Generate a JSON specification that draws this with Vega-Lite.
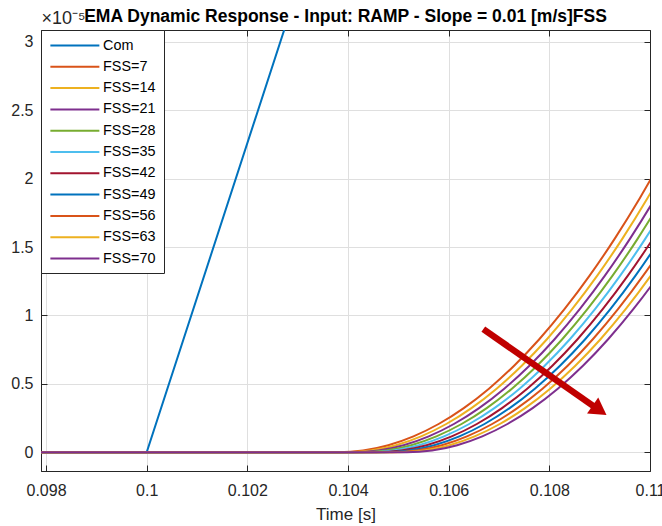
{
  "$schema": "https://vega.github.io/schema/vega-lite/v6.json",
  "width": 609,
  "height": 441,
  "autosize": {"type": "none"},
  "padding": {"left": 41, "top": 30, "right": 12, "bottom": 55},
  "background": "white",
  "config": {
    "font": "Liberation Sans",
    "view": {"stroke": "#262626", "strokeWidth": 1},
    "axis": {
      "labelFont": "Liberation Sans",
      "titleFont": "Liberation Sans",
      "domainColor": "#262626",
      "tickColor": "#262626",
      "gridColor": "#dfdfdf",
      "gridOpacity": 1,
      "labelColor": "#262626",
      "titleColor": "#262626",
      "labelFontSize": 16,
      "titleFontWeight": "normal"
    }
  },
  "title": {
    "text": "EMA Dynamic Response - Input: RAMP - Slope = 0.01 [m/s]FSS",
    "font": "Liberation Sans",
    "fontSize": 17.5,
    "fontWeight": "bold",
    "color": "#000000",
    "anchor": "middle",
    "offset": -16
  },
  "datasets": {
    "com": [
      {"s": "Com", "t": 0.0979, "y": 0},
      {"s": "Com", "t": 0.1, "y": 0},
      {"s": "Com", "t": 0.103, "y": 3.39}
    ],
    "fss": [
      {"s": "FSS=7", "t": 0.0979, "y": 0},
      {"s": "FSS=7", "t": 0.1038, "y": 0},
      {"s": "FSS=7", "t": 0.1043, "y": 0.0129},
      {"s": "FSS=7", "t": 0.1048, "y": 0.0516},
      {"s": "FSS=7", "t": 0.1053, "y": 0.1162},
      {"s": "FSS=7", "t": 0.1058, "y": 0.2066},
      {"s": "FSS=7", "t": 0.1063, "y": 0.3228},
      {"s": "FSS=7", "t": 0.1068, "y": 0.4648},
      {"s": "FSS=7", "t": 0.1073, "y": 0.6326},
      {"s": "FSS=7", "t": 0.1078, "y": 0.8262},
      {"s": "FSS=7", "t": 0.1083, "y": 1.0457},
      {"s": "FSS=7", "t": 0.1088, "y": 1.291},
      {"s": "FSS=7", "t": 0.1093, "y": 1.5621},
      {"s": "FSS=7", "t": 0.1098, "y": 1.859},
      {"s": "FSS=7", "t": 0.1103, "y": 2.1818},

      {"s": "FSS=14", "t": 0.0979, "y": 0},
      {"s": "FSS=14", "t": 0.103952, "y": 0},
      {"s": "FSS=14", "t": 0.104452, "y": 0.0129},
      {"s": "FSS=14", "t": 0.104952, "y": 0.0516},
      {"s": "FSS=14", "t": 0.105452, "y": 0.1162},
      {"s": "FSS=14", "t": 0.105952, "y": 0.2066},
      {"s": "FSS=14", "t": 0.106452, "y": 0.3228},
      {"s": "FSS=14", "t": 0.106952, "y": 0.4648},
      {"s": "FSS=14", "t": 0.107452, "y": 0.6326},
      {"s": "FSS=14", "t": 0.107952, "y": 0.8262},
      {"s": "FSS=14", "t": 0.108452, "y": 1.0457},
      {"s": "FSS=14", "t": 0.108952, "y": 1.291},
      {"s": "FSS=14", "t": 0.109452, "y": 1.5621},
      {"s": "FSS=14", "t": 0.109952, "y": 1.859},
      {"s": "FSS=14", "t": 0.110452, "y": 2.1818},

      {"s": "FSS=21", "t": 0.0979, "y": 0},
      {"s": "FSS=21", "t": 0.104104, "y": 0},
      {"s": "FSS=21", "t": 0.104604, "y": 0.0129},
      {"s": "FSS=21", "t": 0.105104, "y": 0.0516},
      {"s": "FSS=21", "t": 0.105604, "y": 0.1162},
      {"s": "FSS=21", "t": 0.106104, "y": 0.2066},
      {"s": "FSS=21", "t": 0.106604, "y": 0.3228},
      {"s": "FSS=21", "t": 0.107104, "y": 0.4648},
      {"s": "FSS=21", "t": 0.107604, "y": 0.6326},
      {"s": "FSS=21", "t": 0.108104, "y": 0.8262},
      {"s": "FSS=21", "t": 0.108604, "y": 1.0457},
      {"s": "FSS=21", "t": 0.109104, "y": 1.291},
      {"s": "FSS=21", "t": 0.109604, "y": 1.5621},
      {"s": "FSS=21", "t": 0.110104, "y": 1.859},
      {"s": "FSS=21", "t": 0.110604, "y": 2.1818},

      {"s": "FSS=28", "t": 0.0979, "y": 0},
      {"s": "FSS=28", "t": 0.104256, "y": 0},
      {"s": "FSS=28", "t": 0.104756, "y": 0.0129},
      {"s": "FSS=28", "t": 0.105256, "y": 0.0516},
      {"s": "FSS=28", "t": 0.105756, "y": 0.1162},
      {"s": "FSS=28", "t": 0.106256, "y": 0.2066},
      {"s": "FSS=28", "t": 0.106756, "y": 0.3228},
      {"s": "FSS=28", "t": 0.107256, "y": 0.4648},
      {"s": "FSS=28", "t": 0.107756, "y": 0.6326},
      {"s": "FSS=28", "t": 0.108256, "y": 0.8262},
      {"s": "FSS=28", "t": 0.108756, "y": 1.0457},
      {"s": "FSS=28", "t": 0.109256, "y": 1.291},
      {"s": "FSS=28", "t": 0.109756, "y": 1.5621},
      {"s": "FSS=28", "t": 0.110256, "y": 1.859},
      {"s": "FSS=28", "t": 0.110756, "y": 2.1818},

      {"s": "FSS=35", "t": 0.0979, "y": 0},
      {"s": "FSS=35", "t": 0.104408, "y": 0},
      {"s": "FSS=35", "t": 0.104908, "y": 0.0129},
      {"s": "FSS=35", "t": 0.105408, "y": 0.0516},
      {"s": "FSS=35", "t": 0.105908, "y": 0.1162},
      {"s": "FSS=35", "t": 0.106408, "y": 0.2066},
      {"s": "FSS=35", "t": 0.106908, "y": 0.3228},
      {"s": "FSS=35", "t": 0.107408, "y": 0.4648},
      {"s": "FSS=35", "t": 0.107908, "y": 0.6326},
      {"s": "FSS=35", "t": 0.108408, "y": 0.8262},
      {"s": "FSS=35", "t": 0.108908, "y": 1.0457},
      {"s": "FSS=35", "t": 0.109408, "y": 1.291},
      {"s": "FSS=35", "t": 0.109908, "y": 1.5621},
      {"s": "FSS=35", "t": 0.110408, "y": 1.859},
      {"s": "FSS=35", "t": 0.110908, "y": 2.1818},

      {"s": "FSS=42", "t": 0.0979, "y": 0},
      {"s": "FSS=42", "t": 0.10456, "y": 0},
      {"s": "FSS=42", "t": 0.10506, "y": 0.0129},
      {"s": "FSS=42", "t": 0.10556, "y": 0.0516},
      {"s": "FSS=42", "t": 0.10606, "y": 0.1162},
      {"s": "FSS=42", "t": 0.10656, "y": 0.2066},
      {"s": "FSS=42", "t": 0.10706, "y": 0.3228},
      {"s": "FSS=42", "t": 0.10756, "y": 0.4648},
      {"s": "FSS=42", "t": 0.10806, "y": 0.6326},
      {"s": "FSS=42", "t": 0.10856, "y": 0.8262},
      {"s": "FSS=42", "t": 0.10906, "y": 1.0457},
      {"s": "FSS=42", "t": 0.10956, "y": 1.291},
      {"s": "FSS=42", "t": 0.11006, "y": 1.5621},
      {"s": "FSS=42", "t": 0.11056, "y": 1.859},
      {"s": "FSS=42", "t": 0.11106, "y": 2.1818},

      {"s": "FSS=49", "t": 0.0979, "y": 0},
      {"s": "FSS=49", "t": 0.104712, "y": 0},
      {"s": "FSS=49", "t": 0.105212, "y": 0.0129},
      {"s": "FSS=49", "t": 0.105712, "y": 0.0516},
      {"s": "FSS=49", "t": 0.106212, "y": 0.1162},
      {"s": "FSS=49", "t": 0.106712, "y": 0.2066},
      {"s": "FSS=49", "t": 0.107212, "y": 0.3228},
      {"s": "FSS=49", "t": 0.107712, "y": 0.4648},
      {"s": "FSS=49", "t": 0.108212, "y": 0.6326},
      {"s": "FSS=49", "t": 0.108712, "y": 0.8262},
      {"s": "FSS=49", "t": 0.109212, "y": 1.0457},
      {"s": "FSS=49", "t": 0.109712, "y": 1.291},
      {"s": "FSS=49", "t": 0.110212, "y": 1.5621},
      {"s": "FSS=49", "t": 0.110712, "y": 1.859},
      {"s": "FSS=49", "t": 0.111212, "y": 2.1818},

      {"s": "FSS=56", "t": 0.0979, "y": 0},
      {"s": "FSS=56", "t": 0.104864, "y": 0},
      {"s": "FSS=56", "t": 0.105364, "y": 0.0129},
      {"s": "FSS=56", "t": 0.105864, "y": 0.0516},
      {"s": "FSS=56", "t": 0.106364, "y": 0.1162},
      {"s": "FSS=56", "t": 0.106864, "y": 0.2066},
      {"s": "FSS=56", "t": 0.107364, "y": 0.3228},
      {"s": "FSS=56", "t": 0.107864, "y": 0.4648},
      {"s": "FSS=56", "t": 0.108364, "y": 0.6326},
      {"s": "FSS=56", "t": 0.108864, "y": 0.8262},
      {"s": "FSS=56", "t": 0.109364, "y": 1.0457},
      {"s": "FSS=56", "t": 0.109864, "y": 1.291},
      {"s": "FSS=56", "t": 0.110364, "y": 1.5621},
      {"s": "FSS=56", "t": 0.110864, "y": 1.859},
      {"s": "FSS=56", "t": 0.111364, "y": 2.1818},

      {"s": "FSS=63", "t": 0.0979, "y": 0},
      {"s": "FSS=63", "t": 0.105016, "y": 0},
      {"s": "FSS=63", "t": 0.105516, "y": 0.0129},
      {"s": "FSS=63", "t": 0.106016, "y": 0.0516},
      {"s": "FSS=63", "t": 0.106516, "y": 0.1162},
      {"s": "FSS=63", "t": 0.107016, "y": 0.2066},
      {"s": "FSS=63", "t": 0.107516, "y": 0.3228},
      {"s": "FSS=63", "t": 0.108016, "y": 0.4648},
      {"s": "FSS=63", "t": 0.108516, "y": 0.6326},
      {"s": "FSS=63", "t": 0.109016, "y": 0.8262},
      {"s": "FSS=63", "t": 0.109516, "y": 1.0457},
      {"s": "FSS=63", "t": 0.110016, "y": 1.291},
      {"s": "FSS=63", "t": 0.110516, "y": 1.5621},
      {"s": "FSS=63", "t": 0.111016, "y": 1.859},
      {"s": "FSS=63", "t": 0.111516, "y": 2.1818},

      {"s": "FSS=70", "t": 0.0979, "y": 0},
      {"s": "FSS=70", "t": 0.105168, "y": 0},
      {"s": "FSS=70", "t": 0.105668, "y": 0.0129},
      {"s": "FSS=70", "t": 0.106168, "y": 0.0516},
      {"s": "FSS=70", "t": 0.106668, "y": 0.1162},
      {"s": "FSS=70", "t": 0.107168, "y": 0.2066},
      {"s": "FSS=70", "t": 0.107668, "y": 0.3228},
      {"s": "FSS=70", "t": 0.108168, "y": 0.4648},
      {"s": "FSS=70", "t": 0.108668, "y": 0.6326},
      {"s": "FSS=70", "t": 0.109168, "y": 0.8262},
      {"s": "FSS=70", "t": 0.109668, "y": 1.0457},
      {"s": "FSS=70", "t": 0.110168, "y": 1.291},
      {"s": "FSS=70", "t": 0.110668, "y": 1.5621},
      {"s": "FSS=70", "t": 0.111168, "y": 1.859},
      {"s": "FSS=70", "t": 0.111668, "y": 2.1818}
    ],
    "arrow": [
      {"x": 0.106688, "y": 0.9, "x2": 0.108927, "y2": 0.325}
    ],
    "head": [
      {"x": 0.108998, "y": 0.307}
    ]
  },
  "layer": [
    {
      "data": {"name": "com"},
      "mark": {"type": "line", "clip": true, "strokeWidth": 2, "interpolate": "linear"},
      "encoding": {
        "x": {
          "field": "t", "type": "quantitative",
          "scale": {"domain": [0.0979, 0.11], "nice": false, "zero": false},
          "axis": {
            "values": [0.098, 0.1, 0.102, 0.104, 0.106, 0.108, 0.11],
            "format": "~g",
            "title": "Time [s]",
            "grid": true,
            "tickSize": -6,
            "labelPadding": 17,
            "labelFlush": false,
            "titleFontSize": 17,
            "titlePadding": 8
          }
        },
        "y": {
          "field": "y", "type": "quantitative",
          "scale": {"domain": [-0.137, 3.087], "nice": false, "zero": false},
          "axis": {
            "values": [0, 0.5, 1, 1.5, 2, 2.5, 3],
            "format": "~g",
            "grid": true,
            "tickSize": -6,
            "labelPadding": 14,
            "labelFlush": false,
            "title": "×10⁻⁵",
            "titleAngle": 0,
            "titleX": 0,
            "titleY": -7,
            "titleAlign": "left",
            "titleBaseline": "alphabetic",
            "titleFontSize": 18
          }
        },
        "color": {
          "field": "s", "type": "nominal",
          "scale": {
            "domain": ["Com", "FSS=7", "FSS=14", "FSS=21", "FSS=28", "FSS=35", "FSS=42", "FSS=49", "FSS=56", "FSS=63", "FSS=70"],
            "range": ["#0072BD", "#D95319", "#EDB120", "#7E2F8E", "#77AC30", "#4DBEEE", "#A2142F", "#0072BD", "#D95319", "#EDB120", "#7E2F8E"]
          },
          "legend": {
            "orient": "top-left",
            "offset": 0,
            "title": null,
            "padding": 8,
            "fillColor": "white",
            "strokeColor": "#262626",
            "cornerRadius": 0,
            "labelFont": "Liberation Sans",
            "labelFontSize": 14.4,
            "labelColor": "#000000",
            "symbolType": "M-1,0H7",
            "symbolSize": 150,
            "symbolStrokeWidth": 2,
            "rowPadding": 6.3,
            "labelOffset": 39,
            "labelLimit": 200,
            "zindex": 1
          }
        }
      }
    },
    {
      "data": {"name": "fss"},
      "mark": {"type": "line", "clip": true, "strokeWidth": 2, "interpolate": "monotone"},
      "encoding": {
        "x": {"field": "t", "type": "quantitative", "scale": {"domain": [0.0979, 0.11], "nice": false, "zero": false}, "axis": null},
        "y": {"field": "y", "type": "quantitative", "scale": {"domain": [-0.137, 3.087], "nice": false, "zero": false}, "axis": null},
        "color": {"field": "s", "type": "nominal"}
      }
    },
    {
      "data": {"name": "arrow"},
      "mark": {"type": "rule", "color": "#C00000", "strokeWidth": 6.5, "strokeCap": "butt"},
      "encoding": {
        "x": {
          "field": "x", "type": "quantitative",
          "scale": {"domain": [0.0979, 0.11], "nice": false, "zero": false},
          "axis": {"orient": "top", "values": [0.098, 0.1, 0.102, 0.104, 0.106, 0.108, 0.11], "labels": false, "grid": false, "title": null, "tickSize": -6}
        },
        "y": {
          "field": "y", "type": "quantitative",
          "scale": {"domain": [-0.137, 3.087], "nice": false, "zero": false},
          "axis": {"orient": "right", "values": [0, 0.5, 1, 1.5, 2, 2.5, 3], "labels": false, "grid": false, "title": null, "tickSize": -6}
        },
        "x2": {"field": "x2"},
        "y2": {"field": "y2"}
      }
    },
    {
      "data": {"name": "head"},
      "mark": {"type": "point", "shape": "triangle-right", "filled": true, "color": "#C00000", "opacity": 1, "size": 380, "angle": 35, "strokeWidth": 0},
      "encoding": {
        "x": {"field": "x", "type": "quantitative", "scale": {"domain": [0.0979, 0.11], "nice": false, "zero": false}, "axis": null},
        "y": {"field": "y", "type": "quantitative", "scale": {"domain": [-0.137, 3.087], "nice": false, "zero": false}, "axis": null}
      }
    }
  ],
  "resolve": {"axis": {"x": "independent", "y": "independent"}}
}
